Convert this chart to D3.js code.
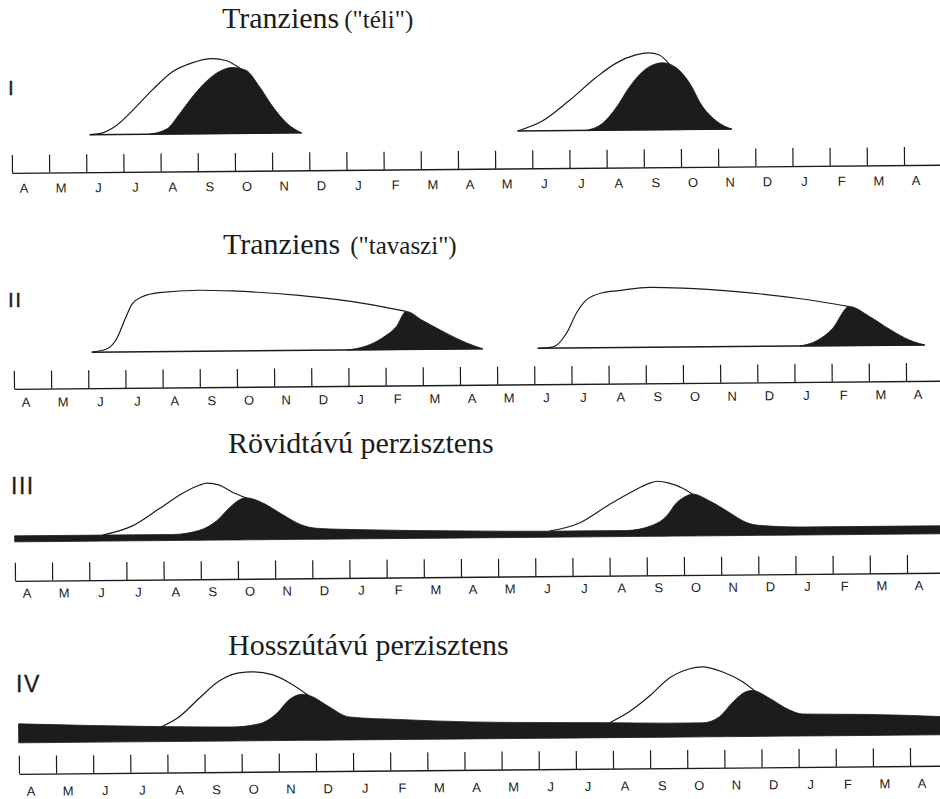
<!DOCTYPE html>
<html>
<head>
<meta charset="UTF-8">
<title>Magbank típusok</title>
<script src="https://d3js.org/d3.v7.min.js"></script>
<style>
  body { margin: 0; background: #fff; }
</style>
</head>
<body>
<script>
// month ticks, April (year 1) .. April (year 3)
var monthLabels = ["A", "M", "J", "J", "A", "S", "O", "N", "D", "J", "F", "M",
                   "A", "M", "J", "J", "A", "S", "O", "N", "D", "J", "F", "M", "A"];

// values are [month, height] pairs
// I - Tranziens ("téli")
var teliOutline1 = [[2.1, 0], [2.37, 1], [2.82, 9], [3.26, 24], [3.79, 44], [4.33, 62], [4.87, 71], [5.41, 75], [5.78, 73], [6.2, 64]];
var teliBlack1 = [[3.7, 0], [4.17, 5], [4.52, 20], [4.87, 37], [5.24, 52], [5.6, 62], [5.95, 66], [6.32, 63], [6.67, 47], [7.02, 27], [7.4, 10], [7.8, 0]];
var teliOutline2 = [[13.61, 0], [14.29, 10], [15.01, 30], [15.74, 53], [16.28, 67], [16.81, 75], [17.16, 77], [17.43, 75], [17.72, 65]];
var teliBlack2 = [[15.47, 0], [15.9, 7], [16.28, 23], [16.63, 43], [16.98, 58], [17.35, 66], [17.52, 67], [17.89, 62], [18.24, 47], [18.59, 23], [18.97, 8], [19.37, 0]];

// II - Tranziens ("tavaszi")
var tavOutline1 = [[2.1, 0], [2.5, 3], [2.77, 13], [3.04, 36], [3.2, 48], [3.47, 55], [3.93, 59], [5.0, 61], [5.89, 60], [7.69, 55], [9.5, 46], [10.57, 38]];
var tavBlack1 = [[8.96, 0], [9.5, 4], [9.93, 12], [10.3, 23], [10.57, 38], [11.0, 29], [11.54, 18], [12.19, 6], [12.62, 0]];
var tavOutline2 = [[14.1, 0], [14.5, 1], [14.88, 15], [15.15, 35], [15.42, 48], [15.85, 55], [16.3, 57], [17.11, 60], [18.0, 59], [19.45, 55], [21.23, 47], [22.49, 39]];
var tavBlack2 = [[21.15, 0], [21.6, 5], [22.03, 17], [22.49, 39], [23.03, 29], [23.57, 16], [24.1, 5], [24.51, 0]];

// III - Rövidtávú perzisztens
var rovOutline1 = [[2.37, 6], [3.17, 15], [3.9, 32], [4.52, 47], [4.98, 55], [5.19, 57], [5.52, 55], [5.86, 48], [6.24, 42]];
var rovOutline2 = [[14.39, 6], [15.2, 14], [16.0, 32], [16.63, 45], [17.08, 53], [17.3, 55], [17.62, 53], [17.97, 48], [18.24, 42]];
var rovBlack = [[0, 6], [2.4, 6], [4.25, 6], [4.98, 10], [5.43, 19], [5.78, 32], [6.05, 40], [6.24, 42], [6.67, 37], [7.21, 25],
                [7.75, 14], [8.12, 11], [9.47, 9], [12.16, 7], [14.4, 6], [16.46, 6], [17.16, 11], [17.54, 20], [17.81, 33],
                [18.08, 40], [18.24, 42], [18.7, 35], [19.24, 23], [19.69, 13], [20.04, 10], [21.2, 8], [25, 8]];

// IV - Hosszútávú perzisztens
var hosszOutline1 = [[3.8, 14], [4.34, 25], [4.87, 43], [5.41, 60], [5.95, 68], [6.3, 69], [6.84, 66], [7.38, 56], [7.84, 44]];
var hosszOutline2 = [[15.92, 15], [16.46, 26], [16.99, 41], [17.53, 59], [18.07, 68], [18.42, 70], [18.96, 65], [19.5, 55], [19.85, 45]];
var hosszBlack = [[0, 19], [3.8, 15], [5.76, 14], [6.49, 17], [6.95, 27], [7.3, 41], [7.65, 46], [7.89, 44], [8.3, 35], [8.91, 23],
                  [10.26, 20], [12.15, 17], [15.92, 15], [17.53, 14], [18.42, 14], [18.88, 20], [19.23, 34], [19.61, 45],
                  [19.77, 46], [20.23, 38], [20.77, 26], [21.11, 22], [22.92, 21], [25, 18]];

var ink = "#1c1c1c";

var svg = d3.select("body").append("svg")
    .attr("width", 940)
    .attr("height", 799)
    .style("display", "block");

// layout of the four strips (scan is tilted a little, hence the rotation)
var panels = [
    { num: "I", numX: 8, numY: 95, numSize: 21, title: "Tranziens", sub: '("téli")', subGap: 5, titleX: 222, titleY: 28,
      axisY: 173, base: 135.5, x0: 12, step: 37.17, labelDy: 20,
      outlines: [teliOutline1, teliOutline2], blacks: [teliBlack1, teliBlack2], baseLine: true },
    { num: "II", numX: 8, numY: 307, numSize: 21, title: "Tranziens", sub: '("tavaszi")', subGap: 10, titleX: 223, titleY: 254,
      axisY: 389, base: 353, x0: 14, step: 37.17, labelDy: 18,
      outlines: [tavOutline1, tavOutline2], blacks: [tavBlack1, tavBlack2], baseLine: true },
    { num: "III", numX: 11, numY: 494, numSize: 23, title: "Rövidtávú perzisztens", titleX: 228, titleY: 453,
      axisY: 581, base: 542, x0: 15, step: 37.17, labelDy: 17,
      outlines: [rovOutline1, rovOutline2], blacks: [rovBlack], baseLine: false },
    { num: "IV", numX: 16, numY: 692, numSize: 23, title: "Hosszútávú perzisztens", titleX: 228, titleY: 655,
      axisY: 774, base: 743, x0: 19, step: 37.13, labelDy: 22,
      outlines: [hosszOutline1, hosszOutline2], blacks: [hosszBlack], baseLine: false }
];

panels.forEach(drawPanel);

function drawPanel(p) {
    // title
    var t = svg.append("text")
        .attr("x", p.titleX)
        .attr("y", p.titleY)
        .attr("font-family", "'Liberation Serif', 'Times New Roman', serif")
        .attr("fill", ink);
    t.append("tspan").attr("font-size", 30).text(p.title);
    if (p.sub) {
        t.append("tspan").attr("font-size", 25).attr("dx", p.subGap).text(p.sub);
    }

    // roman numeral (scan makes it a bit heavier than plain regular)
    svg.append("text")
        .attr("x", p.numX)
        .attr("y", p.numY)
        .attr("font-family", "'Liberation Sans', Arial, sans-serif")
        .attr("font-size", p.numSize)
        .attr("letter-spacing", 1.5)
        .attr("fill", ink)
        .attr("stroke", ink)
        .attr("stroke-width", 0.3)
        .text(p.num);

    var g = svg.append("g")
        .attr("transform", "rotate(-0.5,0," + p.axisY + ")");

    var x = d3.scaleLinear()
        .domain([0, 25])
        .range([p.x0, p.x0 + 25 * p.step]);

    var y = d3.scaleLinear()
        .domain([0, 100])
        .range([p.base, p.base - 100]);

    var area = d3.area()
        .x(function (d) { return x(d[0]); })
        .y0(p.base)
        .y1(function (d) { return y(d[1]); })
        .curve(d3.curveMonotoneX);

    var line = d3.line()
        .x(function (d) { return x(d[0]); })
        .y(function (d) { return y(d[1]); })
        .curve(d3.curveMonotoneX);

    // open outline (total seed bank)
    p.outlines.forEach(function (o) {
        g.append("path")
            .attr("d", line(o))
            .attr("fill", "none")
            .attr("stroke", ink)
            .attr("stroke-width", 1.2);
    });

    // base line under the transient humps
    if (p.baseLine) {
        p.outlines.forEach(function (o, i) {
            var b = p.blacks[i];
            g.append("line")
                .attr("x1", x(o[0][0]))
                .attr("x2", x(b[b.length - 1][0]))
                .attr("y1", p.base)
                .attr("y2", p.base)
                .attr("stroke", ink)
                .attr("stroke-width", 1.5);
        });
    }

    // filled part (germinable seeds)
    p.blacks.forEach(function (b) {
        g.append("path")
            .attr("d", area(b))
            .attr("fill", ink)
            .attr("stroke", ink)
            .attr("stroke-width", 0.8);
    });

    // month axis, ticks pointing up
    var axis = g.append("g")
        .attr("transform", "translate(0," + p.axisY + ")")
        .call(d3.axisTop(x)
            .tickValues(d3.range(25))
            .tickSize(18)
            .tickSizeOuter(0)
            .tickFormat(""));
    axis.select(".domain").attr("stroke", ink).attr("stroke-width", 1.4);
    axis.selectAll(".tick line").attr("stroke", ink).attr("stroke-width", 1.2);

    g.selectAll(".month")
        .data(monthLabels)
        .enter().append("text")
        .attr("class", "month")
        .attr("x", function (d, i) { return x(i + 0.32); })
        .attr("y", p.axisY + p.labelDy)
        .attr("text-anchor", "middle")
        .attr("font-family", "'Liberation Sans', Arial, sans-serif")
        .attr("font-size", 13)
        .attr("fill", ink)
        .text(function (d) { return d; });
}
</script>
</body>
</html>
